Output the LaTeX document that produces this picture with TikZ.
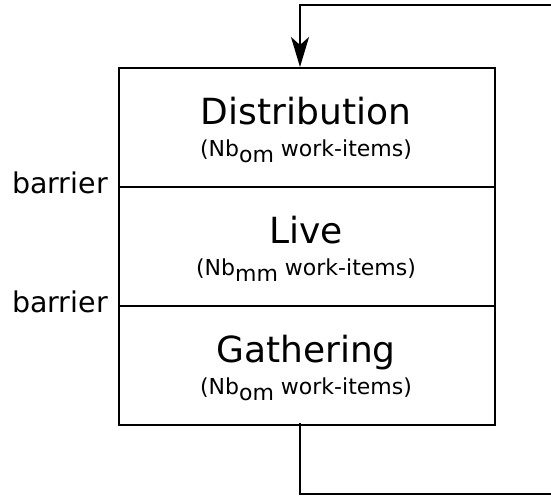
\documentclass[tikz,border=0pt]{standalone}
\usepackage{fontspec}
\setmainfont{DejaVu Sans}
\usetikzlibrary{arrows.meta,calc}
\newcommand{\lowsub}[1]{\raisebox{-0.26em}{#1}}
\begin{document}
\begin{tikzpicture}[x=1pt,y=1pt,
  seg/.style={draw,line width=2pt,minimum width=376pt,minimum height=119pt,inner sep=0pt,anchor=north west},
  ttl/.style={font=\fontsize{36}{40}\selectfont,anchor=base,inner sep=0pt},
  subt/.style={font=\fontsize{22}{26}\selectfont,anchor=base,inner sep=0pt},
  bar/.style={font=\fontsize{28.5}{32}\selectfont,anchor=base east,inner sep=0pt},
  loopline/.style={line width=1.8pt}]
\useasboundingbox (0,0) rectangle (551,-495);
\node[seg] (dist) at (118,-67) {};
\node[seg] (live) at (118,-186) {};
\node[seg] (gath) at (118,-305) {};
\node[ttl] (t1) at (306,-124.5) {Distribution};
\node[subt] (s1) at (306,-156.5) {(Nb\lowsub{om} work-items)};
\node[ttl] (t2) at (306,-243.5) {Live};
\node[subt] (s2) at (306,-275.5) {(Nb\lowsub{mm} work-items)};
\node[ttl] (t3) at (306,-362.5) {Gathering};
\node[subt] (s3) at (306,-394.5) {(Nb\lowsub{om} work-items)};
\node[bar] (b1) at (108,-193) {barrier};
\node[bar] (b2) at (108,-312) {barrier};
\coordinate (out) at (300,-423);
\coordinate (in) at (300,-67);
\coordinate (br) at (620,-494);
\coordinate (tr) at (620,-5);
\draw[loopline,-{Stealth[length=30pt,width=18pt,inset=8pt]}] (out) |- (br) -- (tr) -| (in);
\end{tikzpicture}
\end{document}
